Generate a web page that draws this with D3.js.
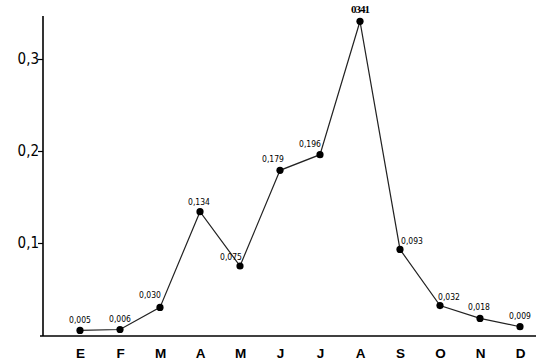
<!DOCTYPE html>
<html><head><meta charset="utf-8">
<script src="https://cdn.jsdelivr.net/npm/d3@7"></script>
<style>body{margin:0;background:#fff}svg{display:block}</style>
</head><body>
<svg id="c" width="536" height="360"></svg>
<script>
const months = ["E","F","M","A","M","J","J","A","S","O","N","D"];
const values = [0.005,0.006,0.030,0.134,0.075,0.179,0.196,0.341,0.093,0.032,0.018,0.009];
const valueLabels = ["0,005","0,006","0,030","0,134","0,075","0,179","0,196","0341","0,093","0,032","0,018","0,009"];
const yTicks = [0.1,0.2,0.3];
const yTickLabels = ["0,1","0,2","0,3"];

// label placement style (offsets relative to point)
const labelStyle = [
  {dx:0,dy:-7},{dx:0,dy:-7},{dx:-10,dy:-9},
  {dx:-1,dy:-7},{dx:-9,dy:-6},{dx:-7,dy:-8},
  {dx:-10,dy:-8},{dx:0,dy:-8},{dx:12,dy:-5},
  {dx:9,dy:-6},{dx:-1,dy:-8},{dx:0,dy:-8}
];

const svg = d3.select("#c");
const idx = months.map((m,i)=>i);
const x = d3.scalePoint().domain(idx).range([80,520]);
const y = d3.scaleLinear().domain([0,0.3]).range([335,59]);
const axisY = 336;

// axes lines
svg.append("line").attr("x1",43).attr("x2",43).attr("y1",16).attr("y2",axisY)
  .attr("stroke","#000").attr("stroke-width",1.6);
svg.append("line").attr("x1",40).attr("x2",536).attr("y1",axisY).attr("y2",axisY)
  .attr("stroke","#000").attr("stroke-width",1.6);

// y ticks
const yAxis = d3.axisLeft(y).tickValues(yTicks).tickSize(5)
  .tickFormat((d,i)=>yTickLabels[i]);
const gy = svg.append("g").attr("transform","translate(43,0)").call(yAxis);
gy.select(".domain").remove();
gy.selectAll(".tick line").attr("stroke","#000").attr("stroke-width",1.2);
gy.selectAll(".tick text").attr("font-family","'DejaVu Sans Condensed','DejaVu Sans',sans-serif")
  .attr("font-size",15).attr("fill","#000").attr("x",-4).attr("dy","0.32em");

// x labels
const xAxis = d3.axisBottom(x).tickSize(0).tickFormat(i=>months[i]);
const gx = svg.append("g").attr("transform","translate(0,"+axisY+")").call(xAxis);
gx.select(".domain").remove();
gx.selectAll(".tick text").attr("font-family","'Liberation Sans',Arial,sans-serif")
  .attr("font-weight","bold").attr("font-size",13.5).attr("fill","#000").attr("y",12);

// line
const line = d3.line().x((d,i)=>x(i)).y(d=>y(d));
svg.append("path").datum(values).attr("d",line).attr("fill","none")
  .attr("stroke","#222").attr("stroke-width",1.2);

// points
svg.selectAll("circle.pt").data(values).join("circle").attr("class","pt")
  .attr("cx",(d,i)=>x(i)).attr("cy",d=>y(d)).attr("r",3.6).attr("fill","#000");

// value labels
svg.selectAll("text.vl").data(values).join("text").attr("class","vl")
  .attr("x",(d,i)=>x(i)+labelStyle[i].dx).attr("y",(d,i)=>y(d)+labelStyle[i].dy)
  .attr("text-anchor","middle")
  .attr("font-family",(d,i)=>i===7?"'Liberation Serif',serif":"'DejaVu Sans Condensed','DejaVu Sans',sans-serif")
  .attr("font-weight",(d,i)=>i===7?"bold":"normal")
  .attr("letter-spacing",(d,i)=>i===7?"-1":"0")
  .attr("font-size",(d,i)=>i===7?11:8.5)
  .attr("fill","#000")
  .text((d,i)=>valueLabels[i]);
</script>
</body></html>
